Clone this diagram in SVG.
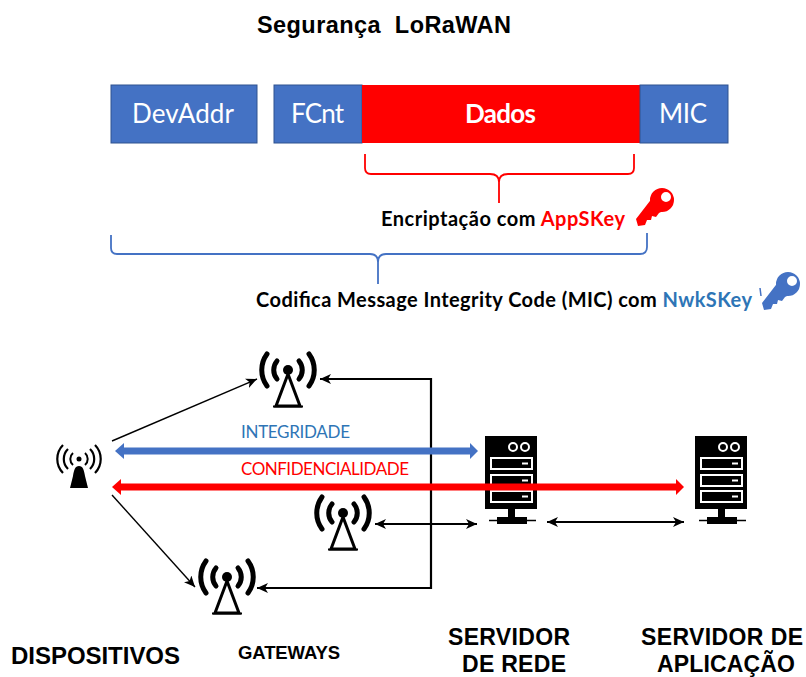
<svg xmlns="http://www.w3.org/2000/svg" width="806" height="677" viewBox="0 0 806 677">
<style>
text{font-family:"Liberation Sans",Arial,sans-serif;fill:#000}
.lato{font-family:Lato,"Noto Sans",sans-serif}
.box{stroke:#2f528f;stroke-width:1}
.boxt{font-family:Lato,"Noto Sans",sans-serif;font-size:26px;fill:#fff;text-anchor:start}
.lb{font-weight:700;font-size:23px}
.cap{font-family:Lato,"Noto Sans",sans-serif;font-weight:700;font-size:20px}
.arc{fill:none;stroke:#000;stroke-width:5;stroke-linecap:round}
.thin{fill:none;stroke:#000;stroke-width:1.4}
.med{fill:none;stroke:#000;stroke-width:2.2}
</style>
<defs>
<marker id="ah" markerUnits="userSpaceOnUse" markerWidth="12" markerHeight="10" refX="11" refY="5" orient="auto-start-reverse"><path d="M0 0L11 5L0 10L3 5Z" fill="#000"/></marker>
<symbol id="tower" overflow="visible">
<circle cx="0" cy="0" r="5" fill="#000"/>
<path class="arc" d="M-11-9A14 14 0 0 0-11 9M11-9A14 14 0 0 1 11 9"/>
<path class="arc" d="M-21-16A27 27 0 0 0-21 16M21-16A27 27 0 0 1 21 16"/>
<path d="M0 4L-12 36H12Z" fill="none" stroke="#000" stroke-width="3" stroke-linejoin="miter"/>
<path d="M-15 36.500H15" stroke="#000" stroke-width="2"/>
</symbol>
<symbol id="server" overflow="visible">
<rect x="0" y="0" width="52" height="73" fill="#000"/>
<circle cx="28" cy="11" r="4" fill="none" stroke="#fff" stroke-width="2"/>
<circle cx="40" cy="11" r="4" fill="none" stroke="#fff" stroke-width="2"/>
<rect x="6" y="22" width="41" height="11" fill="none" stroke="#fff" stroke-width="2"/>
<rect x="6" y="39" width="41" height="11" fill="none" stroke="#fff" stroke-width="2"/>
<rect x="6" y="55" width="41" height="11" fill="none" stroke="#fff" stroke-width="2"/>
<path d="M37 27.500H43M37 44.500H43M37 60.500H43" stroke="#fff" stroke-width="2"/>
<rect x="23" y="73" width="7" height="8" fill="#000"/>
<rect x="12" y="81" width="30" height="7" fill="#000"/>
<path d="M4 84.500H51" stroke="#000" stroke-width="1.600"/>
</symbol>
<symbol id="key" overflow="visible">
<path fill-rule="evenodd" d="M-12 0A12 12 0 1 1 12 0A12 12 0 1 1-12 0ZM-1-3A5 5 0 1 0 9-3A5 5 0 1 0-1-3Z"/>
<path d="M-9-3L5 9L-3 13L-6 17L-10 16L-11 20L-15 20L-17 25L-24 26L-26 19Z"/>
</symbol>
</defs>

<text id="title" x="257" y="33" font-size="23.500" font-weight="700" textLength="254" xml:space="preserve">Segurança  LoRaWAN</text>

<g id="node-devaddr"><rect class="box" x="111" y="85" width="146" height="58" fill="#4472c4"/><text class="boxt" x="132" y="122.500" textLength="102">DevAddr</text></g>
<g id="node-fcnt"><rect class="box" x="274" y="85" width="88" height="58" fill="#4472c4"/><text class="boxt" x="291" y="122.500" textLength="53">FCnt</text></g>
<g id="node-dados"><rect x="362" y="85" width="278" height="58" fill="#f00"/><text class="boxt" x="465" y="122.500" font-weight="700" textLength="71">Dados</text></g>
<g id="node-mic"><rect class="box" x="640" y="85" width="88" height="58" fill="#4472c4"/><text class="boxt" x="659" y="122.500" textLength="48">MIC</text></g>

<g id="brace-red"><path d="M365 154V168Q365 174 371 174H490Q499 174 499 182V203M499 182Q499 174 508 174H628Q634 174 634 168V154" fill="none" stroke="#f00" stroke-width="1.800"/></g>
<g id="brace-blue"><path d="M111 235V248Q111 254 117 254H370Q378 254 378 262V284M378 262Q378 254 386 254H640Q647 254 647 247V233" fill="none" stroke="#4472c4" stroke-width="1.800"/></g>

<g id="label-enc"><text x="381" y="226" class="cap" textLength="244"><tspan>Encriptação com </tspan><tspan style="fill:#f00">AppSKey</tspan></text></g>
<g id="key-red" fill="#f00"><use href="#key" x="662" y="200"/></g>
<g id="label-mic"><text x="256" y="307" class="cap" textLength="496"><tspan>Codifica Message Integrity Code (MIC) com </tspan><tspan style="fill:#2e75b6">NwkSKey</tspan></text></g>
<g id="key-blue" fill="#4472c4"><use href="#key" x="788" y="284"/><path d="M760 288L761 296" stroke="#4472c4" stroke-width="1.500"/></g>

<g id="connectors">
<path class="thin" d="M112 441L257 379" marker-end="url(#ah)"/>
<path class="thin" d="M112 495L195 587" marker-end="url(#ah)"/>
<path class="med" d="M431 379H320" marker-end="url(#ah)"/>
<path class="med" d="M431 378V588H257" marker-end="url(#ah)"/>
<path class="med" d="M375 524H477" marker-start="url(#ah)" marker-end="url(#ah)"/>
<path class="med" d="M547 522H684" marker-start="url(#ah)" marker-end="url(#ah)"/>
</g>

<g id="node-device">
<circle cx="79" cy="459" r="2.500" fill="#000"/>
<path d="M79 466C83 466 84 470 85 476L88 488H70L73 476C74 470 75 466 79 466Z" fill="#000"/>
<path d="M73 453A8 8 0 0 0 73 465M85 453A8 8 0 0 1 85 465" fill="none" stroke="#000" stroke-width="2"/>
<path d="M68 449A14 14 0 0 0 68 469M90 449A14 14 0 0 1 90 469" fill="none" stroke="#000" stroke-width="2.200"/>
<path d="M63 445A20 20 0 0 0 63 473M95 445A20 20 0 0 1 95 473" fill="none" stroke="#000" stroke-width="2.200"/>
</g>
<g id="node-gw1"><use href="#tower" x="288" y="370"/></g>
<g id="node-gw2"><use href="#tower" x="343" y="513"/></g>
<g id="node-gw3"><use href="#tower" x="227" y="577"/></g>
<g id="node-server1"><use href="#server" x="485" y="436"/></g>
<g id="node-server2"><use href="#server" x="695" y="436"/></g>

<g id="flows">
<path d="M124 447.500H470V443L478 451L470 459V454.500H124V459L115 451L124 443Z" fill="#4472c4"/>
<path d="M121 483.500H676V479L684 487L676 495V490.500H121V495L112 487L121 479Z" fill="#f00"/>
</g>

<text class="lato" x="241" y="438" font-size="17" textLength="109" style="fill:#2e75b6">INTEGRIDADE</text>
<text class="lato" x="241" y="475" font-size="17" textLength="168" style="fill:#f00">CONFIDENCIALIDADE</text>

<text x="11" y="664" font-size="24" font-weight="700" textLength="169">DISPOSITIVOS</text>
<text x="238" y="659" font-size="18.500" font-weight="700" textLength="102">GATEWAYS</text>
<text class="lb" x="448" y="645" textLength="122">SERVIDOR</text>
<text class="lb" x="462" y="672" textLength="104">DE REDE</text>
<text class="lb" x="641" y="645" textLength="162">SERVIDOR DE</text>
<text class="lb" x="657" y="672" textLength="138">APLICAÇÃO</text>
</svg>
